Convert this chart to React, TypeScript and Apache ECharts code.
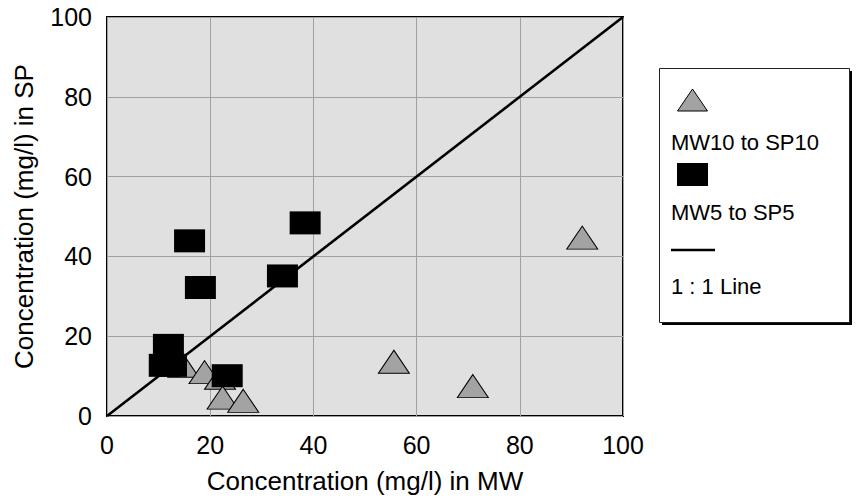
import React, { useEffect, useRef } from "react";
import * as echarts from "echarts";

// Paired concentrations: [MW (mg/l), SP (mg/l)]
const mw10ToSp10: [number, number][] = [
  [14.8, 12.6],
  [18.9, 11.0],
  [21.9, 9.6],
  [22.4, 4.6],
  [26.4, 3.8],
  [55.6, 13.6],
  [70.9, 7.5],
  [92.1, 44.7],
];

const mw5ToSp5: [number, number][] = [
  [16.0, 43.9],
  [18.1, 32.2],
  [38.4, 48.4],
  [34.0, 35.1],
  [11.9, 17.7],
  [11.1, 12.7],
  [12.5, 12.7],
  [23.3, 10.1],
];

const oneToOneLine: [number, number][] = [
  [0, 0],
  [100, 100],
];

const axisMin = 0;
const axisMax = 100;
const axisStep = 20;

const seriesNames = ["MW10 to SP10", "MW5 to SP5", "1 : 1 Line"];
const xTitle = "Concentration (mg/l) in MW";
const yTitle = "Concentration (mg/l) in SP";

const FONT = 'Arial, "Liberation Sans", Helvetica, sans-serif';
const TRI_FILL = "#a3a3a3";

export default function App() {
  const ref = useRef<HTMLDivElement>(null);

  useEffect(() => {
    if (!ref.current) return;
    const chart = echarts.init(ref.current, undefined, { renderer: "svg" });

    const legendFont = `22px ${FONT}`;

    chart.setOption({
      animation: false,
      backgroundColor: "#ffffff",
      grid: {
        left: 107,
        top: 17,
        right: 233,
        bottom: 86,
        show: true,
        backgroundColor: "#e0e0e0",
        borderColor: "#000000",
        borderWidth: 2,
      },
      xAxis: {
        type: "value",
        min: axisMin,
        max: axisMax,
        interval: axisStep,
        name: xTitle,
        nameLocation: "middle",
        nameGap: 52,
        nameTextStyle: { fontSize: 26, color: "#000", fontFamily: FONT },
        axisLine: { show: false },
        axisTick: { show: false },
        axisLabel: { fontSize: 25, color: "#000", fontFamily: FONT, margin: 16 },
        splitLine: { show: true, lineStyle: { color: "#a0a0a0", width: 1 } },
      },
      yAxis: {
        type: "value",
        min: axisMin,
        max: axisMax,
        interval: axisStep,
        name: yTitle,
        nameLocation: "middle",
        nameGap: 70,
        nameTextStyle: { fontSize: 26, color: "#000", fontFamily: FONT },
        axisLine: { show: false },
        axisTick: { show: false },
        axisLabel: { fontSize: 25, color: "#000", fontFamily: FONT, margin: 15 },
        splitLine: { show: true, lineStyle: { color: "#a0a0a0", width: 1 } },
      },
      series: [
        {
          name: seriesNames[2],
          type: "line",
          data: oneToOneLine,
          symbol: "none",
          silent: true,
          z: 1,
          lineStyle: { color: "#000", width: 2.6, opacity: 1 },
        },
        {
          name: seriesNames[0],
          type: "scatter",
          data: mw10ToSp10,
          symbol: "triangle",
          symbolSize: [31, 23],
          silent: true,
          z: 2,
          itemStyle: { color: TRI_FILL, borderColor: "#000", borderWidth: 1, opacity: 1 },
        },
        {
          name: seriesNames[1],
          type: "scatter",
          data: mw5ToSp5,
          symbol: "rect",
          symbolSize: [31, 23],
          silent: true,
          z: 3,
          itemStyle: { color: "#000", opacity: 1 },
        },
      ],
      graphic: [
        // legend panel with drop shadow
        {
          type: "rect",
          shape: { x: 662, y: 71, width: 190, height: 254 },
          style: { fill: "#000" },
          silent: true,
        },
        {
          type: "rect",
          shape: { x: 659.5, y: 68.5, width: 190, height: 254 },
          style: { fill: "#fff", stroke: "#222", lineWidth: 1 },
          silent: true,
        },
        {
          type: "polygon",
          shape: {
            points: [
              [677.5, 111],
              [707.5, 111],
              [692.5, 89],
            ],
          },
          style: { fill: TRI_FILL, stroke: "#000", lineWidth: 1 },
          silent: true,
        },
        {
          type: "text",
          x: 671,
          y: 142,
          style: { text: seriesNames[0], font: legendFont, fill: "#000", verticalAlign: "middle" },
          silent: true,
        },
        {
          type: "rect",
          shape: { x: 677, y: 163, width: 31, height: 23 },
          style: { fill: "#000" },
          silent: true,
        },
        {
          type: "text",
          x: 671,
          y: 212,
          style: { text: seriesNames[1], font: legendFont, fill: "#000", verticalAlign: "middle" },
          silent: true,
        },
        {
          type: "line",
          shape: { x1: 671, y1: 250, x2: 715, y2: 250 },
          style: { stroke: "#000", lineWidth: 2.5 },
          silent: true,
        },
        {
          type: "text",
          x: 671,
          y: 286,
          style: { text: seriesNames[2], font: legendFont, fill: "#000", verticalAlign: "middle" },
          silent: true,
        },
      ],
    });

    return () => chart.dispose();
  }, []);

  return (
    <div
      ref={ref}
      style={{ position: "fixed", left: 0, top: 0, width: 856, height: 502 }}
    />
  );
}
